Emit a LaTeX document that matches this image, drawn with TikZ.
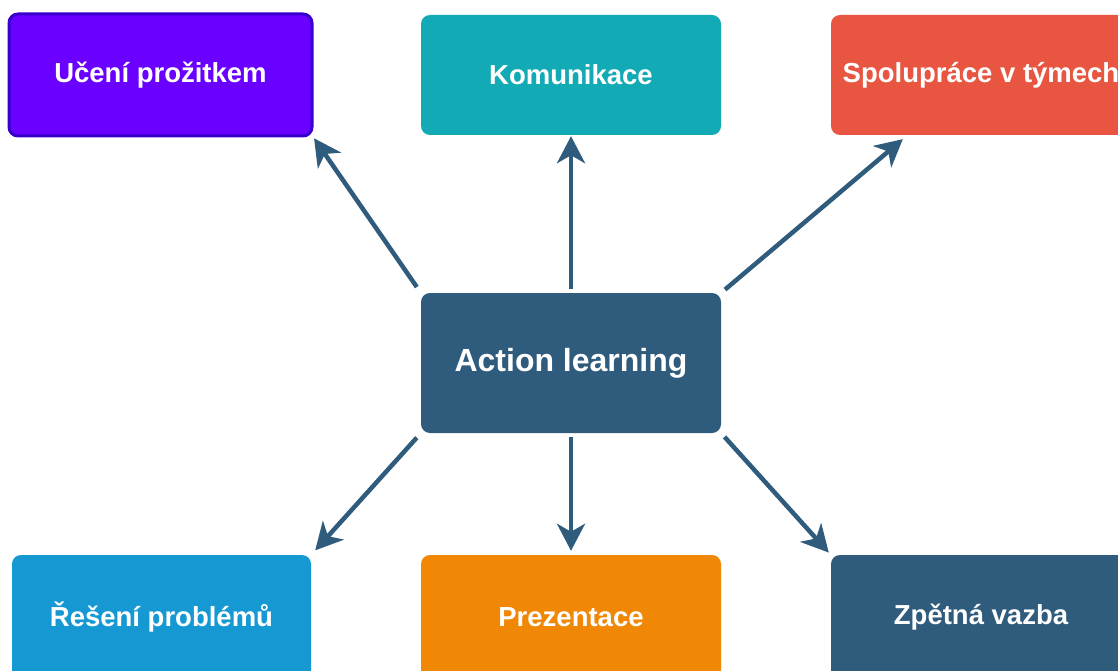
\documentclass[tikz,border=0pt]{standalone}
\usepackage{fontspec}
\setmainfont{Liberation Sans}
\usetikzlibrary{arrows.meta,calc}
\definecolor{cpurple}{HTML}{6A00FF}
\definecolor{cpurpleb}{HTML}{3700CC}
\definecolor{cteal}{HTML}{12AAB5}
\definecolor{cred}{HTML}{E85642}
\definecolor{cblue}{HTML}{1699D3}
\definecolor{corange}{HTML}{F08705}
\definecolor{cdark}{HTML}{2F5B7C}
\tikzset{
  box/.style={rectangle, rounded corners=9pt, draw=none, inner sep=0pt,
    text=white, font=\bfseries\fontsize{27.5}{32}\selectfont,
    minimum width=300pt, minimum height=120pt},
  arr/.style={draw=cdark, line width=4.5pt,
    -{Stealth[length=27pt,width=28pt,inset=8pt]}},
}
\begin{document}
\begin{tikzpicture}[x=1pt,y=-1pt]
\clip (0,0) rectangle (1118,671);
\fill[white] (0,0) rectangle (1118,671);
\node[box, fill=cpurple, draw=cpurpleb, line width=3pt, minimum width=303pt, minimum height=122pt] (tl) at (160.5,75) {Učení prožitkem};
\node[box, fill=cteal] (tc) at (571,75) {Komunikace};
\node[box, fill=cred] (tr) at (981,75) {Spolupráce v týmech};
\node[box, fill=cdark, minimum height=140pt, font=\bfseries\fontsize{32}{38}\selectfont] (c) at (571,363) {Action learning};
\node[box, fill=cblue, minimum width=299pt, minimum height=124pt] (bl) at (161.5,617) {Řešení problémů};
\node[box, fill=corange, minimum height=124pt] (bc) at (571,617) {Prezentace};
\node[box, fill=cdark, minimum height=124pt] (br) at (981,617) {Zpětná vazba};
\coordinate (trtip) at ($(tr.south west)+(72,4)$);
\draw[arr, shorten <=7pt, shorten >=1pt] (c.north west) -- (tl.south east);
\draw[arr, shorten <=4pt, shorten >=1pt] (c.north) -- (tc.south);
\draw[arr, shorten <=5pt] (c.north east) -- (trtip);
\draw[arr, shorten <=6pt, shorten >=6pt] (c.south west) -- (bl.north east);
\draw[arr, shorten <=4pt, shorten >=4pt] (c.south) -- (bc.north);
\draw[arr, shorten <=5pt, shorten >=3pt] (c.south east) -- (br.north west);
\end{tikzpicture}
\end{document}
